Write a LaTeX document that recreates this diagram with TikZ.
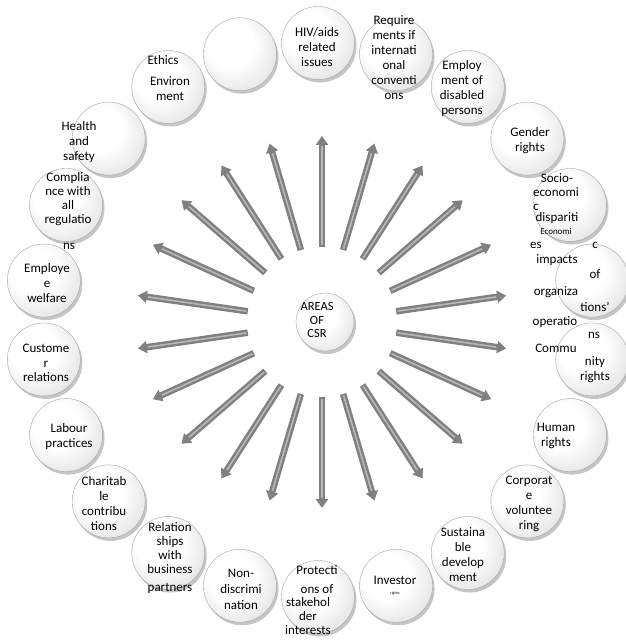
\documentclass[tikz,border=0pt]{standalone}
\usepackage{fontspec}
\setmainfont{Carlito}
\usetikzlibrary{arrows.meta,shadows}
\pgfdeclareradialshading{bubbleshade}{\pgfpoint{-9bp}{9bp}}{%
  color(0bp)=(white); color(16bp)=(white); color(30bp)=(black!9);
  color(40bp)=(black!24); color(48bp)=(black!42); color(58bp)=(black!62)}
\tikzset{
  bubble/.style={circle, minimum size=73pt, inner sep=0pt, draw=black!35,
    shade, shading=bubbleshade,
    drop shadow={shadow xshift=2pt, shadow yshift=-3pt, opacity=0.45}},
  spoke/.style={line width=6.5pt, draw=black!50, -{Triangle[length=9pt,width=12pt]}},
  spokeshine/.style={line width=1.6pt, draw=black!28, shorten >=10pt, shorten <=1.5pt},
  lbl/.style={align=center, inner sep=0pt, text=black, font=\fontsize{13}{15}\selectfont},
}

\begin{document}
\begin{tikzpicture}[x=1pt, y=1pt]
    \useasboundingbox[fill=white] (-322,-318) rectangle (304,322);

    % bubbles on the ring
    \begin{scope}[shift={(-4,2)}]
    \foreach \k in {0,...,21} {
        \node[bubble] (b\k) at ({90+\k*360/22}:277) {};
    }
    \end{scope}

    % spokes
    \foreach \k in {0,...,21} {
        \coordinate (t\k) at ({90+\k*360/22}:75);
        \coordinate (h\k) at ({90+\k*360/22}:186);
        \draw[spoke] (t\k) -- (h\k);
        \draw[spokeshine] (t\k) -- (h\k);
    }

    % centre
    \node[bubble, minimum size=58pt] (core) at (3,0) {};
    \node[lbl, font=\fontsize{12.5}{13.7}\selectfont] (areas) at (-5,2) {AREAS\\OF\\CSR};

    % top half
    \node[lbl] (hiv) at (-5,275) {HIV/aids\\related\\issues};
    \node[lbl] (req) at (72,264) {Require\\ments if\\internati\\onal\\conventi\\ons};
    \node[lbl] (empl) at (140,233) {Employ\\ment of\\disabled\\persons};
    \node[lbl] (gender) at (208,181) {Gender\\rights};
    \node[lbl] (ethics) at (-159,262) {Ethics};
    \node[lbl] (env) at (-152,233) {Environ\\ment};
    \node[lbl] (health) at (-243,180) {Health\\and\\safety};
    \node[lbl, font=\fontsize{13}{14}\selectfont] (comp) at (-254,131) {Complia\\nce with\\all};
    \node[lbl] (regul) at (-254,102) {regulatio};
    \node[lbl] (compns) at (-253,76) {ns};
    \node[lbl] (welf) at (-275,39) {Employe\\e\\welfare};

    % right side, lines run into one another
    \foreach \txt/\x/\y [count=\n] in {Socio-/235/144, economi/234/130, c/214/115,
        dispariti/235/104, es/214/77, c/273/77, impacts/235/62, of/273/48,
        organiza/234/30, tions'/273/15, operatio/233/0, ns/272/-13,
        Commu/234/-26, nity/273/-40, rights/273/-55} {
        \node[lbl] (r\n) at (\x,\y) {\txt};
    }
    \node[lbl, font=\fontsize{9}{10}\selectfont] (econ) at (234,91) {Economi};

    % bottom half
    \node[lbl] (human) at (234,-114) {Human\\rights};
    \node[lbl] (corp) at (207,-182) {Corporat\\e\\voluntee\\ring};
    \node[lbl] (sust) at (141,-233) {Sustaina\\ble\\develop\\ment};
    \node[lbl] (inv) at (73,-258) {Investor};
    \node[lbl, font=\fontsize{4}{5}\selectfont] (invr) at (73,-271) {rights};
    \node[lbl, font=\fontsize{13}{19}\selectfont] (prot) at (-5,-258) {Protecti\\ons of};
    \node[lbl, font=\fontsize{13}{14}\selectfont] (stake) at (-14,-294) {stakehol\\der\\interests};
    \node[lbl, font=\fontsize{13}{16}\selectfont] (nondis) at (-81,-267) {Non-\\discrimi\\nation};
    \node[lbl, font=\fontsize{13}{14.2}\selectfont] (rel) at (-152,-226) {Relation\\ships\\with\\business};
    \node[lbl] (partn) at (-152,-266) {partners};
    \node[lbl] (char) at (-218,-182) {Charitab\\le\\contribu\\tions};
    \node[lbl] (labour) at (-253,-115) {Labour\\practices};
    \node[lbl, font=\fontsize{13}{14.2}\selectfont] (cust) at (-276,-41) {Custome\\r\\relations};
\end{tikzpicture}
\end{document}
